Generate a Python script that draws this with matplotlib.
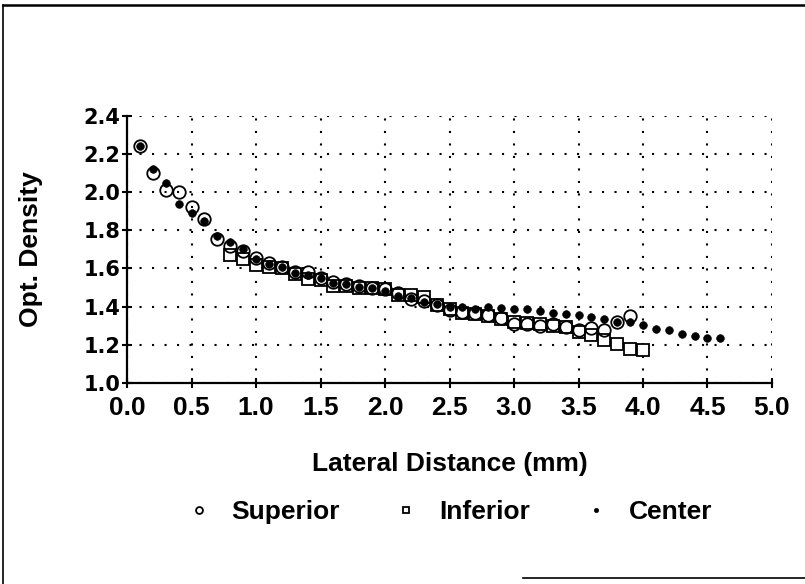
import matplotlib
matplotlib.use("Agg")
import matplotlib.pyplot as plt
from matplotlib.lines import Line2D

plt.rcParams["font.family"] = ["Liberation Sans", "DejaVu Sans"]
plt.rcParams["font.weight"] = "bold"

# ---- data ----
sup_x = [0.1, 0.2, 0.3, 0.4, 0.5, 0.6, 0.7, 0.8, 0.9, 1.0,
         1.1, 1.2, 1.3, 1.4, 1.5, 1.6, 1.7, 1.8, 1.9, 2.0,
         2.1, 2.2, 2.3, 2.4, 2.5, 2.6, 2.7, 2.8, 2.9, 3.0,
         3.1, 3.2, 3.3, 3.4, 3.5, 3.6, 3.7, 3.8, 3.9]
sup_y = [2.24, 2.10, 2.01, 2.00, 1.92, 1.86, 1.755, 1.72, 1.69, 1.655,
         1.63, 1.61, 1.58, 1.58, 1.55, 1.53, 1.52, 1.51, 1.50, 1.49,
         1.47, 1.44, 1.43, 1.41, 1.38, 1.37, 1.365, 1.355, 1.34, 1.31,
         1.31, 1.30, 1.31, 1.295, 1.28, 1.29, 1.28, 1.32, 1.35]

inf_x = [0.8, 0.9, 1.0, 1.1, 1.2, 1.3, 1.4, 1.5, 1.6, 1.7,
         1.8, 1.9, 2.0, 2.1, 2.2, 2.3, 2.4, 2.5, 2.6, 2.7,
         2.8, 2.9, 3.0, 3.1, 3.2, 3.3, 3.4, 3.5, 3.6, 3.7,
         3.8, 3.9, 4.0]
inf_y = [1.67, 1.65, 1.62, 1.605, 1.60, 1.57, 1.545, 1.54, 1.51, 1.51,
         1.50, 1.50, 1.49, 1.46, 1.46, 1.45, 1.41, 1.39, 1.365, 1.36,
         1.35, 1.335, 1.32, 1.315, 1.31, 1.30, 1.295, 1.265, 1.25, 1.225,
         1.205, 1.18, 1.175]

cen_x = [0.1, 0.2, 0.3, 0.4, 0.5, 0.6, 0.7, 0.8, 0.9, 1.0,
         1.1, 1.2, 1.3, 1.4, 1.5, 1.6, 1.7, 1.8, 1.9, 2.0,
         2.1, 2.2, 2.3, 2.4, 2.5, 2.6, 2.7, 2.8, 2.9, 3.0,
         3.1, 3.2, 3.3, 3.4, 3.5, 3.6, 3.7, 3.8, 3.9, 4.0,
         4.1, 4.2, 4.3, 4.4, 4.5, 4.6]
cen_y = [2.24, 2.12, 2.05, 1.94, 1.89, 1.85, 1.77, 1.74, 1.70, 1.65,
         1.625, 1.605, 1.575, 1.565, 1.55, 1.525, 1.52, 1.505, 1.495, 1.48,
         1.455, 1.445, 1.425, 1.415, 1.40, 1.40, 1.39, 1.40, 1.395, 1.385,
         1.385, 1.375, 1.365, 1.36, 1.355, 1.345, 1.335, 1.32, 1.32, 1.305,
         1.285, 1.275, 1.255, 1.245, 1.235, 1.235]

x_ticks = [0.0, 0.5, 1.0, 1.5, 2.0, 2.5, 3.0, 3.5, 4.0, 4.5, 5.0]
y_ticks = [1.0, 1.2, 1.4, 1.6, 1.8, 2.0, 2.2, 2.4]

# ---- figure ----
fig = plt.figure(figsize=(8.05, 5.84), dpi=100)
ax = fig.add_axes([0.1578, 0.3442, 0.8012, 0.4577])

ax.plot(inf_x, inf_y, ls="none", marker="s", ms=8, mfc="white", mec="black",
        mew=1.3, label="Inferior", zorder=3)
ax.plot(sup_x, sup_y, ls="none", marker="o", ms=9, mfc="none", mec="black",
        mew=1.3, label="Superior", zorder=4)
ax.plot(cen_x, cen_y, ls="none", marker="o", ms=5.5, mfc="black", mec="black",
        mew=0.5, label="Center", zorder=5)

ax.set_xlim(0, 5.0)
ax.set_ylim(1.0, 2.4)
ax.set_xticks(x_ticks)
ax.set_yticks(y_ticks)
ax.set_xticklabels([f"{v:.1f}" for v in x_ticks], fontsize=19,
                   fontweight="bold")
ax.set_yticklabels([f"{v:.1f}" for v in y_ticks], fontsize=15,
                   fontweight="bold", family="DejaVu Sans")

ax.grid(True, color="black", linestyle=(0, (1, 5)), linewidth=1.5)
ax.set_axisbelow(True)

for side in ["top", "right"]:
    ax.spines[side].set_visible(False)
for side in ["left", "bottom"]:
    ax.spines[side].set_linewidth(1.6)

ax.tick_params(axis="both", direction="inout", length=7, width=1.5,
               colors="black")
ax.tick_params(axis="x", pad=6)
ax.tick_params(axis="y", pad=1.5)

ax.set_xlabel("Lateral Distance (mm)", fontsize=19, fontweight="bold")
ax.set_ylabel("Opt. Density", fontsize=19, fontweight="bold")
ax.xaxis.label.set_va("center")
ax.yaxis.label.set_va("center")
ax.xaxis.set_label_coords(0.5, -0.303)
ax.yaxis.set_label_coords(-0.149, 0.5)

handles, labels = ax.get_legend_handles_labels()
order = [1, 0, 2]
fig.legend([handles[i] for i in order], [labels[i] for i in order],
           loc="center", bbox_to_anchor=(449 / 805, 1 - 512 / 584),
           ncol=3, frameon=False, markerscale=0.55,
           handlelength=1.0, handletextpad=0.75, columnspacing=2.0,
           prop={"size": 19, "weight": "bold"})

# scanned page frame
fig.add_artist(Line2D([0.004, 1.0], [0.992, 0.992], color="black", lw=1.8,
                      transform=fig.transFigure))
fig.add_artist(Line2D([0.004, 0.004], [0.0, 0.992], color="black", lw=1.2,
                      transform=fig.transFigure))
fig.add_artist(Line2D([0.65, 1.0], [0.01, 0.01], color="black", lw=1.2,
                      transform=fig.transFigure))

fig.savefig("out.png", dpi=100)
